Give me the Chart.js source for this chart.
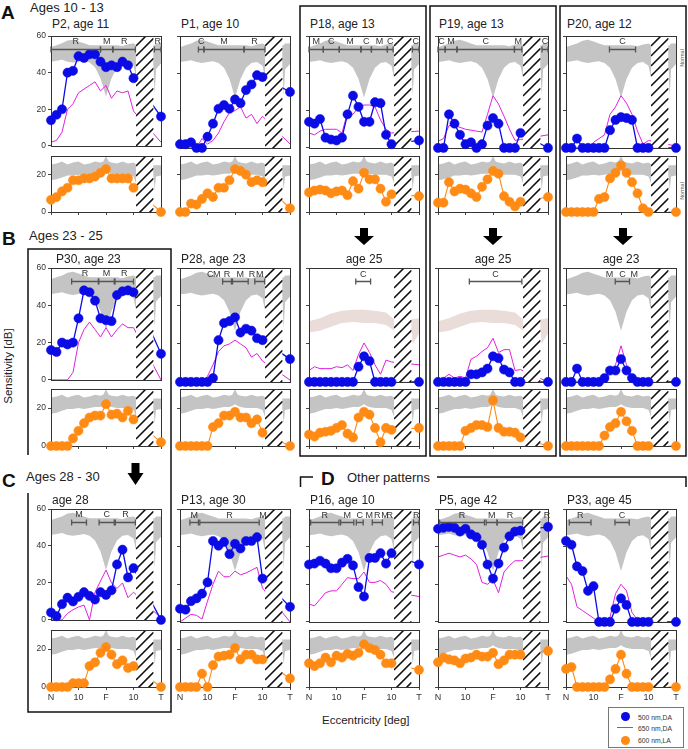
<!DOCTYPE html>
<html lang="en">
<head>
    <meta charset="UTF-8">
    <title>Sensitivity profiles</title>
    <script src="https://cdn.jsdelivr.net/npm/chart.js"></script>
    <style>
        body, html {
            margin: 0;
            padding: 0;
            background: #fff;
            font-family: "Liberation Sans", Arial, sans-serif;
        }
        #page {
            position: relative;
            width: 688px;
            height: 749px;
            overflow: hidden;
        }
        .cv { position: absolute; }
        .txt {
            position: absolute;
            white-space: nowrap;
            color: #222;
            line-height: 1;
            transform: translateY(-50%);
        }
        .sec { font-weight: bold; font-size: 19px; color: #111; }
        .hdr { font-size: 13px; }
        .ttl { font-size: 12px; }
        .rot { transform: translate(-50%, -50%) rotate(-90deg); }
        #legend {
            position: absolute;
            left: 608px; top: 707px;
            width: 76px; height: 41px;
            border: 1px solid #777;
            box-sizing: border-box;
        }
        #legend .dot { position: absolute; width: 9px; height: 9px; border-radius: 50%; }
        #legend .lbl { position: absolute; font-size: 6.8px; color: #333; transform: translateY(-50%); white-space: nowrap; }
    </style>
</head>
<body>
<div id="page">
    <svg width="688" height="749" style="position:absolute;left:0;top:0">
        <g fill="none" stroke="#111" stroke-width="1.5">
            <rect x="300" y="6" width="126" height="450"/>
            <rect x="430" y="6" width="126" height="450"/>
            <rect x="560" y="6" width="126" height="450"/>
            <path d="M28 455 V249 H171 V712 H28 V493"/>
            <path d="M300.5 487 V477 H313 M437 477 H686 V487"/>
        </g>
        <g fill="#000">
            <path d="M360 228 H368 V236 H374 L364 245 L354 236 H360 Z"/>
            <path d="M489 228 H497 V236 H503 L493 245 L483 236 H489 Z"/>
            <path d="M619 228 H627 V236 H633 L623 245 L613 236 H619 Z"/>
            <path d="M131.5 463 H139.5 V473 H143.5 L135.5 485 L127.5 473 H131.5 Z"/>
        </g>
    </svg>

    <div class="txt sec" style="left:1px;top:12px">A</div>
    <div class="txt hdr" style="left:30px;top:7px">Ages 10 - 13</div>
    <div class="txt sec" style="left:2px;top:238px">B</div>
    <div class="txt hdr" style="left:29px;top:235px">Ages 23 - 25</div>
    <div class="txt sec" style="left:2px;top:480px">C</div>
    <div class="txt hdr" style="left:26px;top:476px">Ages 28 - 30</div>
    <div class="txt sec" style="left:321px;top:478px">D</div>
    <div class="txt hdr" style="left:347px;top:477px">Other patterns</div>

    <div class="txt rot" style="left:9px;top:366px;font-size:11.5px">Sensitivity [dB]</div>
    <div class="txt" style="left:322px;top:721px;font-size:11.5px">Eccentricity [deg]</div>
    <div class="txt rot" style="left:683px;top:58px;font-size:5.5px;color:#555">Normal</div>
    <div class="txt rot" style="left:683px;top:191px;font-size:5.5px;color:#555">Normal</div>

    <div id="legend">
        <div class="dot" style="left:12px;top:4px;background:#0b0be6"></div>
        <div class="lbl" style="left:29px;top:9px">500 nm,DA</div>
        <div style="position:absolute;left:8px;top:19px;width:16px;height:1.2px;background:#e020e0"></div>
        <div class="lbl" style="left:29px;top:20px">650 nm,DA</div>
        <div class="dot" style="left:12px;top:28px;background:#ff8a14"></div>
        <div class="lbl" style="left:29px;top:32px">600 nm,LA</div>
    </div>
</div>

<script>
    // eccentricity grid of the test points (deg); last point is the far temporal one
    const ecc = [-20, -18, -16, -14, -12, -10, -8, -6, -4, -2, 0, 2, 4, 6, 8, 10, 20];
    const xTickVals = [-20, -10, 0, 10, 20];
    const xTickText = ['N', '10', 'F', '10', 'T'];
    const daTicks = [0, 20, 40, 60];
    const laTicks = [0, 20];
    const blindSpot = [10.9, 17.3];

    // normal ranges (grey bands)
    const normEcc = [-20, -18, -16, -14, -12, -10, -8, -6, -4, -2, -1, 0, 1, 2, 4, 6, 8, 10, 11, 14, 17.3, 17.7, 18.2, 20];
    const da500Hi = [54, 55, 56, 57.5, 58, 57, 56, 55, 55, 55, 55, 55, 55, 55, 55, 54.5, 55.5, 56, 55, 55, 55, 55, 56, 56];
    const da500Lo = [46, 46.5, 47, 46, 45.5, 46, 46.5, 45.5, 43, 37, 32, 27, 32, 37, 43, 45.5, 46, 44, 37, 40, 42, 28, 42, 45];
    const la600Hi = [25.5, 26, 27, 25.5, 26.5, 27, 25.5, 26, 27, 26.5, 27, 30, 27, 26.5, 26, 27, 26, 26.5, 25.5, 25, 25, 25, 25, 25];
    const la600Lo = [17, 17.5, 18.5, 19.5, 19.5, 20, 19.5, 20, 20.5, 20.5, 21, 22, 21, 20.5, 20, 20, 20, 19, 15, 17, 19, 12, 19, 19.5];
    // shifted (rod-free) reference band in the age 25 follow-ups
    const shiftEcc = [-20, -16, -12, -8, -4, 0, 4, 8, 10, 11, 17.3, 17.7, 20];
    const shiftHi = [32, 33.5, 36, 37.5, 38, 38, 37.5, 36.5, 34, 33, 33, 33, 33.5];
    const shiftLo = [26, 27, 29, 31, 31.5, 31, 31, 30, 28, 27, 27, 20, 25.5];

    // A: ages 10 - 13
    const p2_500 = [14, 17, 20, 40, 41, 49, 48, 50, 50, 46, 43, 44, 43, 46, 44, 37, 16];
    const p2_650 = [2, 3, 7.5, 20, 23, 29, 31, 33, 35, 30, 33, 26, 30, 29, 30, 19, 2];
    const p2_600 = [6.5, 8, 11, 13, 17, 17, 18, 18, 19, 21, 23, 18, 18, 18, 18, 13, 0];
    const p1_500 = [2, 2, 3, 0, 0, 6, 13, 21, 23, 21, 26, 24, 31, 34, 39, 38, 30];
    const p1_650 = [0, 0, 0, 0, 5, 2, 4, 8, 14, 19, 20, 22, 16, 18, 13, 17, 2];
    const p1_600 = [0, 0, 4.5, 4, 7, 10, 8, 13, 13, 17, 23, 22, 20, 16, 17, 16, 2];
    const p18_500 = [14, 13, 15.5, 5.5, 4.5, 4, 5.5, 18, 28, 22, 14, 14, 24.5, 24, 7, 2, 4];
    const p18_650 = [8, 7, 9, 10, 10, 10, 8, 19, 18, 22, 23, 23, 22, 15, 10, 8, 9];
    const p18_600 = [10.5, 11.5, 12, 11.5, 10, 11, 11.5, 9, 16.5, 12.5, 21, 17.5, 17.5, 12.5, 5.5, 9.5, 8.5];
    const p19_500 = [0, 0, 18, 13, 7, 2, 3, 0, 2, 12, 16, 13, 0, 0, 0, 8, 0];
    const p19_650 = [3.5, 5, 12, 12, 11, 10, 9.5, 9, 8.5, 18, 28, 23.5, 17, 10, 4, 4.5, 7];
    const p19_600 = [5, 5, 16, 11, 12.5, 12, 10, 8, 13.5, 17.5, 22, 20.5, 8.5, 5.5, 3, 5.5, 8];
    const p20_500 = [0, 0, 5, 0, 0, 0, 0, 0, 9.5, 15, 16.5, 16, 15, 0, 0, 0, 0];
    const p20_650 = [0, 0, 0, 0, 0, 3, 5, 7, 18, 22, 28, 24, 18, 9, 2, 4, 1];
    const p20_600 = [0, 0, 0, 0, 0, 0, 7, 8, 18, 21, 25, 21, 16, 10, 2, 0, 0];

    // B: ages 23 - 25
    const p30_500 = [16, 15, 20, 19, 20, 33, 48, 47, 42.5, 33, 32, 31.5, 45.5, 47.5, 48, 47, 14];
    const p30_650 = [0, 0, 0, 0, 4, 20, 27, 31, 27, 23, 28, 23, 27, 30, 28, 28, 0];
    const p30_600 = [0, 0, 0, 0, 4, 8, 12, 15, 16, 16, 22, 16.5, 17, 15, 18.5, 14, 2];
    const p28_500 = [0, 0, 0, 0, 0, 0, 2, 22, 31, 32, 34, 26, 28, 27, 23, 22, 12];
    const p28_650 = [0, 0, 0, 0, 0, 3, 9, 16, 19, 20, 22, 20, 18, 13, 15, 11, 1];
    const p28_600 = [0, 0, 0, 0, 0, 0, 10, 12, 16, 16, 18, 15, 15, 12, 14, 7, 0];
    const p18f_500 = [0, 0, 0, 0, 0, 0, 0, 0, 0, 8, 13.5, 11, 0, 0, 0, 0, 0];
    const p18f_650 = [6, 8, 7, 7, 7, 8, 7.5, 9, 6, 14.5, 20.5, 15.5, 9, 4, 11.5, 10.5, 9];
    const p18f_600 = [6, 5, 7, 7.5, 8, 9.5, 11, 6.5, 4.5, 15, 18, 16.5, 9.5, 2, 9.5, 8.5, 9.5];
    const p19f_500 = [0, 0, 0, 0, 0, 0, 4, 4, 5, 7, 13.5, 12.5, 6.5, 5, 0, 0, 0];
    const p19f_650 = [0, 2, 4, 2, 3, 2, 12, 13.5, 16, 18, 23, 15.5, 17, 17, 6, 6.5, 0];
    const p19f_600 = [0, 0, 0, 0, 0, 8, 9.5, 11, 11, 10, 24, 9.5, 7.5, 7.5, 7, 4.5, 0];
    const p20f_500 = [0, 0, 7, 0, 0, 0, 0, 2, 6, 6, 12, 6, 2, 0, 0, 0, 0];
    const p20f_650 = [0, 0, 0, 0, 0, 0, 0, 1, 4, 9, 19, 9, 3, 0, 0, 0, 0];
    const p20f_600 = [0, 0, 0, 0, 0, 0, 0, 5.5, 10, 12, 18, 13, 8, 0, 0, 0, 0];

    // C: ages 28 - 30
    const p30f_500 = [4, 2, 8.5, 12, 10, 12.5, 15, 13, 11, 15, 13.5, 16, 30, 38, 23, 28, 0];
    const p30f_650 = [0, 0, 0, 3.5, 5.5, 7, 8, 0, 15, 21, 27, 20, 17, 20, 12, 15, 1];
    const p30f_600 = [0, 0, 0, 0, 2, 2, 2, 11, 13, 18, 21, 17, 12, 14, 10, 11, 0];
    const p13_500 = [7, 6.5, 11, 12.5, 15, 21, 43, 40.5, 42.5, 36, 41.5, 39, 43, 43, 45, 23, 8];
    const p13_650 = [0, 2, 4, 3.5, 1.5, 11, 20, 27, 24, 24, 27, 25, 26, 27.5, 29, 18, 0];
    const p13_600 = [0, 0, 0, 0, 7, 0, 11.5, 16, 16.5, 17, 20.5, 14.5, 17, 17, 14.5, 14.5, 4.5];

    // D: other patterns
    const p16_500 = [30.5, 31, 32.5, 31, 28.5, 28.5, 31.5, 33.5, 30, 18.5, 13.5, 34, 34, 36.5, 31, 36.5, 30.5];
    const p16_650 = [9.5, 8.5, 12, 15.5, 16.5, 16.5, 20, 23.5, 23, 23, 26.5, 21, 21, 22, 20, 16, 13.5];
    const p16_600 = [12.5, 11, 12.5, 15.5, 13, 16.5, 15.5, 17.5, 16.5, 18, 22.5, 20.5, 19.5, 17, 12.5, 12.5, 9];
    const p5_500 = [49.5, 50, 50.5, 50, 48, 49.5, 46.5, 45, 41, 30.5, 23, 31, 39.5, 45.5, 48, 48.5, 50.5];
    const p5_650 = [34.5, 35.5, 36.5, 35.5, 34.5, 35.5, 33.5, 30.5, 21, 20, 22.5, 15.5, 26.5, 30, 32.5, 32.5, 35];
    const p5_600 = [13, 15.5, 14.5, 14, 12.5, 15, 15.5, 17, 16, 16, 18, 12, 14, 17, 17, 17, 19];
    const p33_500 = [43, 41, 29.5, 27, 16.5, 19, 0, 0, 0, 7, 12.5, 9, 0, 0, 0, 0, 0];
    const p33_650 = [24.5, 20, 8, 6, 4, 2, 0, 0, 2.5, 15, 20, 16.5, 5, 1, 0, 0, 0];
    const p33_600 = [9.5, 10.5, 0, 0, 0, 0, 0, 0, 4, 9.5, 17, 7, 0, 0, 0, 0, 0];

    // retinal regions [from, to, label]; from == to is a label only
    const regP2 = [[-20, -2, 'R'], [-2, 2.5, 'M'], [2.5, 10.7, 'R'], [17.6, 20, 'R']];
    const regP1 = [[-13.3, -11.3, 'C'], [-11.3, 3.3, 'M'], [3.3, 10.9, 'R']];
    const regP18 = [[-20, -14.8, 'M'], [-14.8, -9, 'C'], [-9, -1.1, 'M'], [-1.1, 2.7, 'C'], [2.7, 8.5, 'M'], [8.5, 10.6, 'C'], [17.6, 20, 'C']];
    const regP19 = [[-20, -17.4, 'C'], [-17.4, -13.1, 'M'], [-13.1, 7.8, 'C'], [7.8, 10.5, 'M'], [17.8, 20, 'C']];
    const regP20 = [[-4.2, 5.3, 'C']];
    const regP30 = [[-12.5, -2.8, 'R'], [-2.6, 3, 'M'], [3.3, 10, 'R']];
    const regP28 = [[-9, -9, 'C'], [-6.6, -6.6, 'M'], [-4.5, -1.3, 'R'], [-0.9, 4.8, 'M'], [6.2, 6.2, 'R'], [7.2, 10.8, 'M']];
    const regP18f = [[-3, 2.4, 'C']];
    const regP19f = [[-8.6, 10.5, 'C']];
    const regP20f = [[-4.2, -4.2, 'M'], [-2.1, 3.1, 'C'], [4.8, 4.8, 'M']];
    const regP30f = [[-12.5, -7.1, 'M'], [-2.5, 3, 'C'], [3.4, 10.7, 'R']];
    const regP13 = [[-16.4, -13.3, 'M'], [-12.8, 8.8, 'R'], [10.2, 10.2, 'M']];
    const regP16 = [[-19.4, -9.1, 'R'], [-8.5, -3.7, 'M'], [-2.8, -0.3, 'C'], [1.9, 1.9, 'M'], [3, 6.7, 'R'], [7.6, 7.6, 'M'], [9.4, 9.4, 'R'], [18, 20, 'R']];
    const regP5 = [[-19.4, -3.1, 'R'], [-2.5, 1.5, 'M'], [1.5, 10.8, 'R'], [19.6, 19.6, 'R']];
    const regP33 = [[-18.8, -10.9, 'R'], [-2.2, 3, 'C']];

    const panels = [
        { row: 0, col: 0, title: 'P2, age 11', b: p2_500, m: p2_650, o: p2_600, reg: regP2 },
        { row: 0, col: 1, title: 'P1, age 10', b: p1_500, m: p1_650, o: p1_600, reg: regP1 },
        { row: 0, col: 2, title: 'P18, age 13', b: p18_500, m: p18_650, o: p18_600, reg: regP18 },
        { row: 0, col: 3, title: 'P19, age 13', b: p19_500, m: p19_650, o: p19_600, reg: regP19 },
        { row: 0, col: 4, title: 'P20, age 12', b: p20_500, m: p20_650, o: p20_600, reg: regP20 },
        { row: 1, col: 0, title: 'P30, age 23', b: p30_500, m: p30_650, o: p30_600, reg: regP30, dx: 4 },
        { row: 1, col: 1, title: 'P28, age 23', b: p28_500, m: p28_650, o: p28_600, reg: regP28 },
        { row: 1, col: 2, title: 'age 25', b: p18f_500, m: p18f_650, o: p18f_600, reg: regP18f, center: true, shifted: true },
        { row: 1, col: 3, title: 'age 25', b: p19f_500, m: p19f_650, o: p19f_600, reg: regP19f, center: true, shifted: true },
        { row: 1, col: 4, title: 'age 23', b: p20f_500, m: p20f_650, o: p20f_600, reg: regP20f, center: true },
        { row: 2, col: 0, title: 'age 28', b: p30f_500, m: p30f_650, o: p30f_600, reg: regP30f },
        { row: 2, col: 1, title: 'P13, age 30', b: p13_500, m: p13_650, o: p13_600, reg: regP13 },
        { row: 2, col: 2, title: 'P16, age 10', b: p16_500, m: p16_650, o: p16_600, reg: regP16 },
        { row: 2, col: 3, title: 'P5, age 42', b: p5_500, m: p5_650, o: p5_600, reg: regP5 },
        { row: 2, col: 4, title: 'P33, age 45', b: p33_500, m: p33_650, o: p33_600, reg: regP33 }
    ];

    const BLUE = '#0b0be6', MAG = '#e020e0', ORANGE = '#ff8a14', GRAY = '#c4c4c4', PINK = '#eadcd8';
    const FONT = '"Liberation Sans", Arial, sans-serif';
    const colLeft = [51, 180, 309, 438, 566];
    const PW = 110;
    const rowPos = [
        { top: 36, h: 113, ttl: 24, lTop: 156, lH: 56 },
        { top: 268, h: 115, ttl: 259, lTop: 389, lH: 57 },
        { top: 509, h: 114, ttl: 500, lTop: 630, lH: 57 }
    ];
    const page = document.getElementById('page');

    function pts(vals, xs) {
        return vals.map((v, i) => ({ x: xs[i], y: v }));
    }

    // hatch over the blind spot + frame, drawn after the lines, before the dots
    const hatchFrame = {
        id: 'hatchFrame',
        afterDatasetDraw(chart, args) {
            if (args.index !== 1) return;
            const { ctx, chartArea: a, scales: { x } } = chart;
            const x0 = x.getPixelForValue(blindSpot[0]), x1 = x.getPixelForValue(blindSpot[1]);
            const w = x1 - x0;
            ctx.save();
            ctx.beginPath();
            ctx.rect(x0, a.top, w, a.bottom - a.top);
            ctx.clip();
            ctx.fillStyle = '#fff';
            ctx.fillRect(x0, a.top, w, a.bottom - a.top);
            ctx.beginPath();
            for (let y = a.top - w; y < a.bottom + w; y += 10) {
                ctx.moveTo(x0, y + w);
                ctx.lineTo(x1, y);
            }
            ctx.strokeStyle = '#111';
            ctx.lineWidth = 1.6;
            ctx.stroke();
            ctx.restore();
            ctx.save();
            ctx.strokeStyle = '#333';
            ctx.lineWidth = 1;
            ctx.strokeRect(Math.round(a.left) + 0.5, Math.round(a.top) + 0.5, Math.round(a.right - a.left), Math.round(a.bottom - a.top));
            ctx.restore();
        }
    };

    const regionBars = {
        id: 'regionBars',
        afterDatasetsDraw(chart, args, opts) {
            if (!opts.list) return;
            const { ctx, scales: { x, y } } = chart;
            const yb = Math.round(y.getPixelForValue(53)) + 0.5;
            const yl = y.getPixelForValue(56.8);
            ctx.save();
            ctx.strokeStyle = '#555';
            ctx.lineWidth = 1.3;
            ctx.fillStyle = '#333';
            ctx.font = '9px ' + FONT;
            ctx.textAlign = 'center';
            ctx.textBaseline = 'middle';
            opts.list.forEach(([a, b, t]) => {
                const xa = x.getPixelForValue(a), xb = x.getPixelForValue(b);
                if (b > a) {
                    ctx.beginPath();
                    ctx.moveTo(xa, yb); ctx.lineTo(xb, yb);
                    ctx.moveTo(xa, yb - 3); ctx.lineTo(xa, yb + 3);
                    ctx.moveTo(xb, yb - 3); ctx.lineTo(xb, yb + 3);
                    ctx.stroke();
                }
                ctx.fillText(t, (xa + xb) / 2, yl);
            });
            ctx.restore();
        }
    };

    function addChart(left, top, h, cfg) {
        const padT = 8, padB = 4, yW = 26, padR = 8;
        const xH = cfg.xAxis ? (cfg.xLabels ? 16 : 5) : 0;
        const cw = yW + PW + padR, ch = padT + h + xH + padB;
        const cv = document.createElement('canvas');
        cv.width = cw;
        cv.height = ch;
        cv.className = 'cv';
        cv.style.left = (left - yW) + 'px';
        cv.style.top = (top - padT) + 'px';
        cv.style.width = cw + 'px';
        cv.style.height = ch + 'px';
        page.appendChild(cv);

        new Chart(cv, {
            type: 'line',
            data: { datasets: cfg.datasets },
            options: {
                responsive: false,
                animation: false,
                events: [],
                layout: { padding: { left: 0, top: padT, right: padR, bottom: padB } },
                elements: { line: { tension: 0 } },
                scales: {
                    x: {
                        type: 'linear', min: -20, max: 20, display: cfg.xAxis,
                        afterBuildTicks: s => { s.ticks = xTickVals.map(v => ({ value: v })); },
                        afterFit: s => { s.height = xH; },
                        ticks: {
                            display: cfg.xLabels, autoSkip: false, maxRotation: 0, padding: 2,
                            font: { size: 9, family: FONT }, color: '#333',
                            callback: v => xTickText[xTickVals.indexOf(v)]
                        },
                        grid: { drawOnChartArea: false, drawTicks: true, tickLength: 3, color: '#444' },
                        border: { display: false }
                    },
                    y: {
                        min: 0, max: cfg.ymax,
                        afterBuildTicks: s => { s.ticks = cfg.yTicks.map(v => ({ value: v })); },
                        afterFit: s => { s.width = yW; },
                        ticks: { display: cfg.yLabels, padding: 2, font: { size: 8.5, family: FONT }, color: '#333' },
                        grid: { drawOnChartArea: false, drawTicks: true, tickLength: 3, color: '#444' },
                        border: { display: false }
                    }
                },
                plugins: {
                    legend: { display: false },
                    tooltip: { enabled: false },
                    regionBars: { list: cfg.regions }
                }
            },
            plugins: [hatchFrame, regionBars]
        });
    }

    function addText(text, left, top, cls, centered) {
        const d = document.createElement('div');
        d.className = 'txt ' + cls;
        d.textContent = text;
        d.style.top = top + 'px';
        if (centered) {
            d.style.left = left + 'px';
            d.style.transform = 'translate(-50%, -50%)';
        } else {
            d.style.left = left + 'px';
        }
        page.appendChild(d);
    }

    panels.forEach(p => {
        const L = colLeft[p.col], R = rowPos[p.row];
        if (p.center) addText(p.title, L + PW / 2, R.ttl, 'ttl', true);
        else addText(p.title, L + 1 + (p.dx || 0), R.ttl, 'ttl', false);

        const band = p.shifted ? [shiftEcc, shiftHi, shiftLo, PINK] : [normEcc, da500Hi, da500Lo, GRAY];
        addChart(L, R.top, R.h, {
            xAxis: false, xLabels: false, yLabels: p.col === 0, ymax: 60, yTicks: daTicks, regions: p.reg,
            datasets: [
                { data: pts(p.b, ecc), showLine: false, pointRadius: 4.6, pointBackgroundColor: BLUE, pointBorderColor: BLUE, pointBorderWidth: 0.5, clip: false },
                { data: pts(p.b, ecc), pointRadius: 0, borderColor: BLUE, borderWidth: 1.3 },
                { data: pts(p.m, ecc), pointRadius: 0, borderColor: MAG, borderWidth: 1 },
                { data: pts(band[1], band[0]), pointRadius: 0, borderWidth: 0, borderColor: band[3], backgroundColor: band[3], fill: '+1' },
                { data: pts(band[2], band[0]), pointRadius: 0, borderWidth: 0, borderColor: band[3], fill: false }
            ]
        });
        addChart(L, R.lTop, R.lH, {
            xAxis: true, xLabels: p.row === 2, yLabels: p.col === 0, ymax: 30, yTicks: laTicks, regions: null,
            datasets: [
                { data: pts(p.o, ecc), showLine: false, pointRadius: 4.6, pointBackgroundColor: ORANGE, pointBorderColor: ORANGE, pointBorderWidth: 0.5, clip: false },
                { data: pts(p.o, ecc), pointRadius: 0, borderColor: ORANGE, borderWidth: 1.1 },
                { data: pts(la600Hi, normEcc), pointRadius: 0, borderWidth: 0, borderColor: GRAY, backgroundColor: GRAY, fill: '+1' },
                { data: pts(la600Lo, normEcc), pointRadius: 0, borderWidth: 0, borderColor: GRAY, fill: false }
            ]
        });
    });
</script>
</body>
</html>
